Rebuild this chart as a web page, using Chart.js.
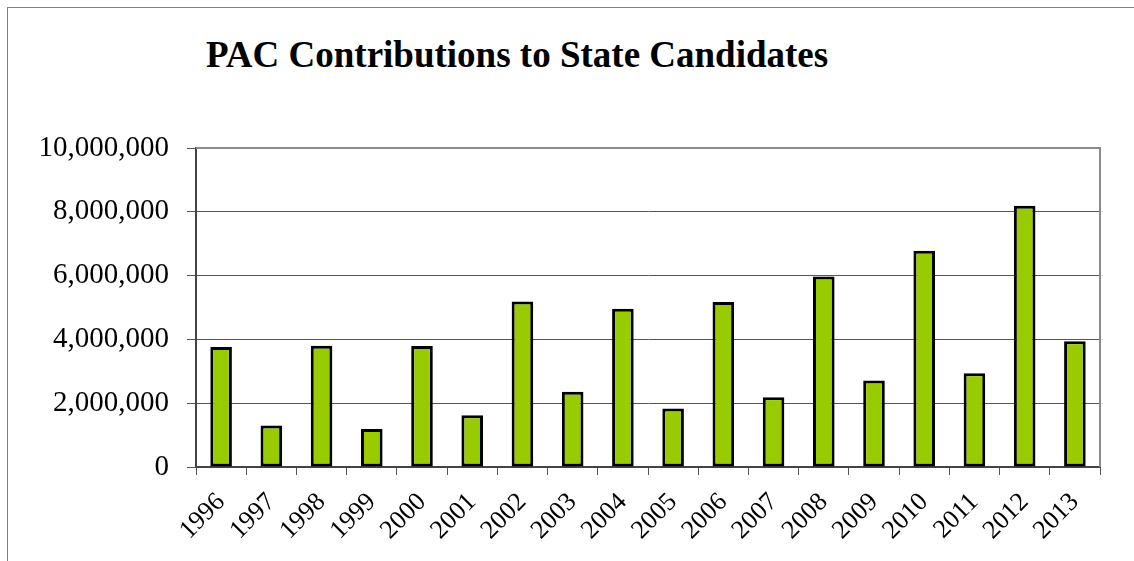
<!DOCTYPE html>
<html>
<head>
<meta charset="utf-8">
<script src="https://cdn.jsdelivr.net/npm/chart.js@4/dist/chart.umd.min.js"></script>
<style>
    html, body { margin: 0; padding: 0; background: #fff; }
    #wrap { position: relative; width: 1134px; height: 561px; overflow: hidden; }
    #frame { position: absolute; left: 7px; top: 7px; width: 1200px; height: 600px;
             border-left: 1px solid #808080; border-top: 1px solid #808080; }
    #title { position: absolute; left: 206px; top: 33px; margin: 0; line-height: 37px;
             font: bold 37px "Liberation Serif", "Times New Roman", serif; color: #000; white-space: nowrap; }
    canvas { position: absolute; left: 0; top: 0; }
</style>
</head>
<body>
<div id="wrap">
    <div id="frame"></div>
    <h1 id="title">PAC Contributions to State Candidates</h1>
    <canvas id="pac_chart" width="1134" height="561"></canvas>
</div>
<script>
    "use strict";

    const years = ['1996', '1997', '1998', '1999', '2000', '2001', '2002', '2003', '2004',
                   '2005', '2006', '2007', '2008', '2009', '2010', '2011', '2012', '2013'];
    const contributions = [3760000, 1300000, 3800000, 1190000, 3790000, 1620000, 5190000, 2360000, 4960000,
                           1830000, 5170000, 2190000, 5970000, 2710000, 6780000, 2940000, 8190000, 3940000];
    const yTicks = [0, 2000000, 4000000, 6000000, 8000000, 10000000];

    const serif = '"Liberation Serif", "Times New Roman", serif';

    // gray top/right edge of the plot box
    const plotFrame = {
        id: 'plotFrame',
        afterDraw(chart) {
            const { ctx, chartArea: a } = chart;
            ctx.save();
            ctx.strokeStyle = '#8c8c8c';
            ctx.lineWidth = 2;
            ctx.beginPath();
            ctx.moveTo(a.left, a.top);
            ctx.lineTo(a.right, a.top);
            ctx.lineTo(a.right, a.bottom);
            ctx.stroke();
            ctx.restore();
        }
    };

    const ctx = document.getElementById('pac_chart');
    new Chart(ctx, {
        type: 'bar',
        data: {
            labels: years,
            datasets: [{
                data: contributions,
                backgroundColor: '#99cc00',
                borderColor: '#000000',
                borderWidth: 3,
                borderSkipped: false,
                barPercentage: 0.43,
                categoryPercentage: 1,
            }],
        },
        options: {
            responsive: false,
            animation: false,
            layout: { padding: { left: 0, top: 148, right: 34, bottom: 0 } },
            plugins: {
                legend: { display: false },
                tooltip: { enabled: false },
            },
            scales: {
                x: {
                    afterFit: (scale) => { scale.height = 94; },
                    grid: {
                        offset: true,
                        drawOnChartArea: false,
                        drawTicks: true,
                        tickLength: 8,
                        color: '#555555',
                    },
                    border: { color: '#444444', width: 2 },
                    ticks: {
                        minRotation: 45,
                        maxRotation: 45,
                        autoSkip: false,
                        padding: 12,
                        color: '#000',
                        font: { family: serif, size: 26 },
                    },
                },
                y: {
                    min: 0,
                    max: 10000000,
                    afterFit: (scale) => { scale.width = 196; },
                    afterBuildTicks: (scale) => { scale.ticks = yTicks.map(v => ({ value: v })); },
                    grid: {
                        color: (c) => c.tick && c.tick.value === 10000000 ? 'rgba(0,0,0,0)' : '#555555',
                        tickColor: '#555555',
                        tickLength: 9,
                    },
                    border: { color: '#444444', width: 2 },
                    ticks: {
                        padding: 18,
                        color: '#000',
                        font: { family: serif, size: 29 },
                        callback: (v) => Number(v).toLocaleString('en-US'),
                    },
                },
            },
        },
        plugins: [plotFrame],
    });
</script>
</body>
</html>
